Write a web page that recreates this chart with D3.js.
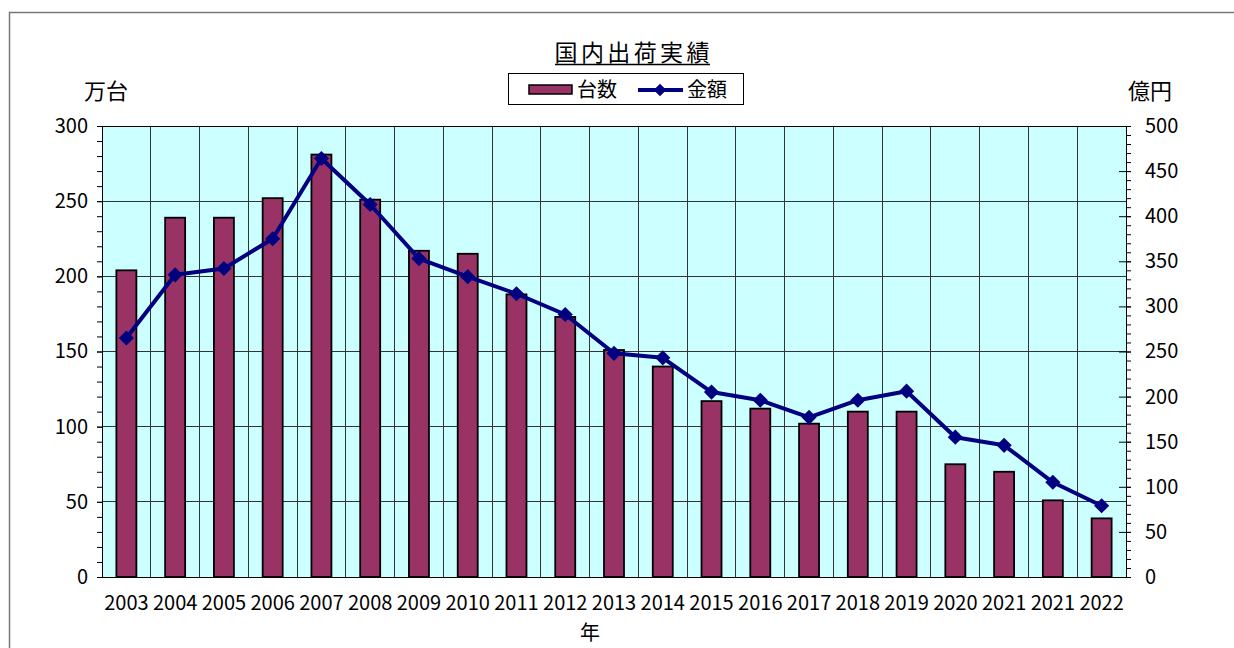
<!DOCTYPE html>
<html lang="ja">

<head>
    <meta charset="utf-8">
    <script src="https://d3js.org/d3.v7.min.js"></script>
    <style>
        body { margin: 0; background: #fff; }
        text { font-family: "Noto Sans CJK JP", "Noto Sans", sans-serif; fill: #000; }
    </style>
</head>

<body>
    <script>
        // data
        const years = ["2003", "2004", "2005", "2006", "2007", "2008", "2009", "2010", "2011", "2012", "2013",
            "2014", "2015", "2016", "2017", "2018", "2019", "2020", "2021", "2021", "2022"];
        const units = [204, 239, 239, 252, 281, 251, 217, 215, 188, 173, 151, 140, 117, 112, 102, 110, 110, 75, 70, 51, 39]; // 万台
        const amounts = [265, 335, 342, 375, 464, 413, 353, 333, 314, 291, 248, 243, 205, 196, 177, 196, 206, 155, 146, 105, 79]; // 億円
        const leftTicks = [0, 50, 100, 150, 200, 250, 300];
        const rightTicks = [0, 50, 100, 150, 200, 250, 300, 350, 400, 450, 500];

        const width = 1234;
        const height = 648;
        const pLeft = 102, pRight = 1126, pTop = 126, pBottom = 577;

        const svg = d3.select("body").append("svg")
            .attr("width", width)
            .attr("height", height);

        // outer frame (runs off the right and bottom edges)
        svg.append("rect")
            .attr("x", 9.5).attr("y", 12.5)
            .attr("width", 1240).attr("height", 700)
            .attr("fill", "#fff").attr("stroke", "#777").attr("stroke-width", 1.5);

        const idx = d3.range(years.length);
        const xCat = d3.scaleBand().domain(idx).range([pLeft, pRight]);
        const xBar = d3.scaleBand().domain(idx).range([pLeft, pRight])
            .paddingInner(0.59).paddingOuter(0.295);
        const yL = d3.scaleLinear().domain([0, 300]).range([pBottom, pTop]);
        const yR = d3.scaleLinear().domain([0, 500]).range([pBottom, pTop]);

        // plot background
        svg.append("rect")
            .attr("x", pLeft).attr("y", pTop)
            .attr("width", pRight - pLeft).attr("height", pBottom - pTop)
            .attr("fill", "#ccffff");

        // gridlines
        const grid = svg.append("g").attr("stroke", "#333").attr("stroke-width", 1)
            .attr("shape-rendering", "crispEdges");
        grid.selectAll(".h").data(leftTicks).join("line")
            .attr("x1", pLeft).attr("x2", pRight)
            .attr("y1", d => yL(d)).attr("y2", d => yL(d));
        grid.selectAll(".v").data(idx.slice(1)).join("line")
            .attr("x1", d => xCat(d)).attr("x2", d => xCat(d))
            .attr("y1", pTop).attr("y2", pBottom);

        // bars
        svg.append("g").selectAll("rect").data(units).join("rect")
            .attr("x", (d, i) => xBar(i))
            .attr("y", d => yL(d))
            .attr("width", xBar.bandwidth())
            .attr("height", d => pBottom - yL(d))
            .attr("fill", "#993366")
            .attr("stroke", "#000").attr("stroke-width", 1.8);

        // line + markers
        const cx = i => xCat(i) + xCat.bandwidth() / 2;
        svg.append("path")
            .datum(amounts)
            .attr("fill", "none").attr("stroke", "#000080").attr("stroke-width", 4)
            .attr("stroke-linejoin", "round")
            .attr("d", d3.line().x((d, i) => cx(i)).y(d => yR(d)));
        svg.append("g").selectAll("path").data(amounts).join("path")
            .attr("d", d3.symbol().type(d3.symbolSquare).size(115))
            .attr("transform", (d, i) => `translate(${cx(i)},${yR(d)}) rotate(45)`)
            .attr("fill", "#000080");

        // plot border
        svg.append("rect")
            .attr("x", pLeft).attr("y", pTop)
            .attr("width", pRight - pLeft).attr("height", pBottom - pTop)
            .attr("fill", "none").attr("stroke", "#000").attr("shape-rendering", "crispEdges");

        // left axis
        svg.append("g")
            .attr("transform", `translate(${pLeft},0)`)
            .call(d3.axisLeft(yL).tickValues(d3.range(0, 301, 10)).tickSize(5).tickFormat(""))
            .call(g => g.select(".domain").remove());
        svg.append("g")
            .attr("transform", `translate(${pLeft},0)`)
            .call(d3.axisLeft(yL).tickValues(leftTicks).tickSize(5).tickPadding(9).tickSizeOuter(0))
            .call(g => g.selectAll("text").attr("font-size", 20).attr("font-family", null));

        // right axis (major ticks cross)
        svg.append("g")
            .attr("transform", `translate(${pRight},0)`)
            .call(d3.axisRight(yR).tickValues(d3.range(0, 501, 10)).tickSize(5).tickFormat(""))
            .call(g => g.select(".domain").remove());
        svg.append("g")
            .attr("transform", `translate(${pRight},0)`)
            .call(d3.axisLeft(yR).tickValues(rightTicks).tickSize(7).tickFormat("").tickSizeOuter(0))
            .call(g => g.select(".domain").remove());
        svg.append("g")
            .attr("transform", `translate(${pRight},0)`)
            .call(d3.axisRight(yR).tickValues(rightTicks).tickSize(5).tickPadding(14).tickSizeOuter(0))
            .call(g => g.selectAll("text").attr("font-size", 20).attr("font-family", null));

        // bottom axis
        svg.append("g")
            .attr("transform", `translate(0,${pBottom})`)
            .call(d3.axisBottom(xCat).tickFormat(i => years[i]).tickSize(0).tickPadding(19))
            .call(g => g.selectAll("text").attr("font-size", 20).attr("font-family", null));

        // titles
        svg.append("text")
            .attr("x", 632).attr("y", 61)
            .attr("text-anchor", "middle")
            .attr("font-size", 23)
            .attr("textLength", 155).attr("lengthAdjust", "spacing")
            .text("国内出荷実績");
        svg.append("line")
            .attr("x1", 555).attr("x2", 710).attr("y1", 64.5).attr("y2", 64.5)
            .attr("stroke", "#000").attr("stroke-width", 1.5);

        svg.append("text").attr("x", 84).attr("y", 99).attr("font-size", 22).text("万台");
        svg.append("text").attr("x", 1128).attr("y", 99).attr("font-size", 22).text("億円");
        svg.append("text").attr("x", 590).attr("y", 640).attr("text-anchor", "middle").attr("font-size", 20).text("年");

        // legend
        const lg = svg.append("g");
        lg.append("rect")
            .attr("x", 508.5).attr("y", 73.5).attr("width", 235).attr("height", 31)
            .attr("fill", "#fff").attr("stroke", "#000");
        lg.append("rect")
            .attr("x", 529).attr("y", 85).attr("width", 43).attr("height", 9)
            .attr("fill", "#993366").attr("stroke", "#000").attr("stroke-width", 1.5);
        lg.append("text").attr("x", 577).attr("y", 97).attr("font-size", 20).text("台数");
        lg.append("line")
            .attr("x1", 638).attr("x2", 683).attr("y1", 90).attr("y2", 90)
            .attr("stroke", "#000080").attr("stroke-width", 4);
        lg.append("path")
            .attr("d", d3.symbol().type(d3.symbolSquare).size(80))
            .attr("transform", "translate(660,90) rotate(45)")
            .attr("fill", "#000080");
        lg.append("text").attr("x", 687).attr("y", 97).attr("font-size", 20).text("金額");
    </script>
</body>

</html>
